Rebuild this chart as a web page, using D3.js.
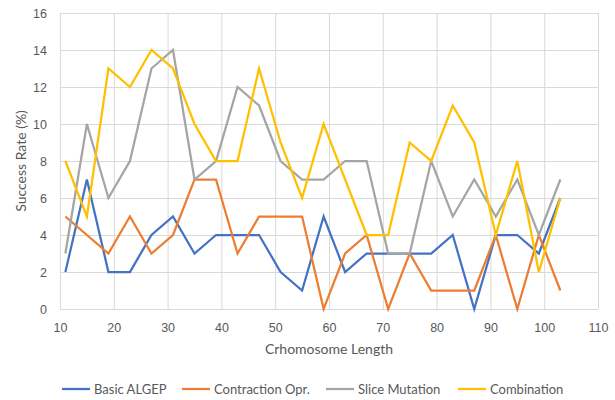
<!DOCTYPE html>
<html lang="en">
<head>
  <meta charset="UTF-8">
  <title>Success Rate vs Chromosome Length</title>
  <script src="https://d3js.org/d3.v7.min.js"></script>
  <style>
    body { margin: 0; background: #fff; }
    svg { display: block; font-family: Lato, "Open Sans", sans-serif; }
    .tick text { fill: #595959; font-size: 12.5px; }
    .grid line { stroke: #d9d9d9; stroke-width: 1; }
    .axis-title { fill: #595959; font-size: 14px; }
    .legend-text { fill: #595959; font-size: 13px; }
  </style>
</head>
<body>
  <svg width="615" height="400"></svg>
  <script>
    const lengths = [11, 15, 19, 23, 27, 31, 35, 39, 43, 47, 51, 55, 59, 63, 67, 71, 75, 79, 83, 87, 91, 95, 99, 103];
    const basicAlgep = [2, 7, 2, 2, 4, 5, 3, 4, 4, 4, 2, 1, 5, 2, 3, 3, 3, 3, 4, 0, 4, 4, 3, 6];
    const contraction = [5, 4, 3, 5, 3, 4, 7, 7, 3, 5, 5, 5, 0, 3, 4, 0, 3, 1, 1, 1, 4, 0, 4, 1];
    const sliceMutation = [3, 10, 6, 8, 13, 14, 7, 8, 12, 11, 8, 7, 7, 8, 8, 3, 3, 8, 5, 7, 5, 7, 4, 7];
    const combination = [8, 5, 13, 12, 14, 13, 10, 8, 8, 13, 9, 6, 10, 7, 4, 4, 9, 8, 11, 9, 4, 8, 2, 6];
    const xTicks = [10, 20, 30, 40, 50, 60, 70, 80, 90, 100, 110];
    const yTicks = [0, 2, 4, 6, 8, 10, 12, 14, 16];

    const series = [
      { name: "Basic ALGEP", values: basicAlgep, color: "#4472C4" },
      { name: "Contraction Opr.", values: contraction, color: "#ED7D31" },
      { name: "Slice Mutation", values: sliceMutation, color: "#A5A5A5" },
      { name: "Combination", values: combination, color: "#FFC000" }
    ];

    const svg = d3.select("svg");
    const plotLeft = 60, plotRight = 598, plotTop = 13, plotBottom = 309;

    const x = d3.scaleLinear().domain([10, 110]).range([plotLeft, plotRight]);
    const y = d3.scaleLinear().domain([0, 16]).range([plotBottom, plotTop]);

    // vertical gridlines
    svg.append("g")
      .attr("class", "grid")
      .attr("transform", `translate(0,${plotBottom})`)
      .call(d3.axisBottom(x).tickValues(xTicks).tickSize(-(plotBottom - plotTop)).tickFormat(""))
      .call(g => g.select(".domain").remove());

    // horizontal gridlines
    svg.append("g")
      .attr("class", "grid")
      .attr("transform", `translate(${plotLeft},0)`)
      .call(d3.axisLeft(y).tickValues(yTicks).tickSize(-(plotRight - plotLeft)).tickFormat(""))
      .call(g => g.select(".domain").remove());

    // x axis labels
    svg.append("g")
      .attr("transform", `translate(0,${plotBottom})`)
      .call(d3.axisBottom(x).tickValues(xTicks).tickSize(0).tickPadding(14))
      .call(g => g.select(".domain").remove());

    // y axis labels
    svg.append("g")
      .attr("transform", `translate(${plotLeft},0)`)
      .call(d3.axisLeft(y).tickValues(yTicks).tickSize(0).tickPadding(13))
      .call(g => g.select(".domain").remove());

    const line = d3.line()
      .x((d, i) => x(lengths[i]))
      .y(d => y(d));

    series.forEach(s => {
      svg.append("path")
        .datum(s.values)
        .attr("fill", "none")
        .attr("stroke", s.color)
        .attr("stroke-width", 2.25)
        .attr("stroke-linejoin", "miter")
        .attr("d", line);
    });

    svg.append("text")
      .attr("class", "axis-title")
      .attr("x", (plotLeft + plotRight) / 2)
      .attr("y", 354)
      .attr("text-anchor", "middle")
      .text("Crhomosome Length");

    svg.append("text")
      .attr("class", "axis-title")
      .attr("transform", `translate(21,${(plotTop + plotBottom) / 2}) rotate(-90)`)
      .attr("text-anchor", "middle")
      .attr("dy", "0.35em")
      .text("Success Rate (%)");

    // legend
    const legendX = [62, 182, 326, 458];
    series.forEach((s, i) => {
      const g = svg.append("g").attr("transform", `translate(${legendX[i]},389)`);
      g.append("line")
        .attr("x1", 0).attr("x2", 28)
        .attr("stroke", s.color)
        .attr("stroke-width", 2.25);
      g.append("text")
        .attr("class", "legend-text")
        .attr("x", 32)
        .attr("dy", "0.35em")
        .text(s.name);
    });
  </script>
</body>
</html>
